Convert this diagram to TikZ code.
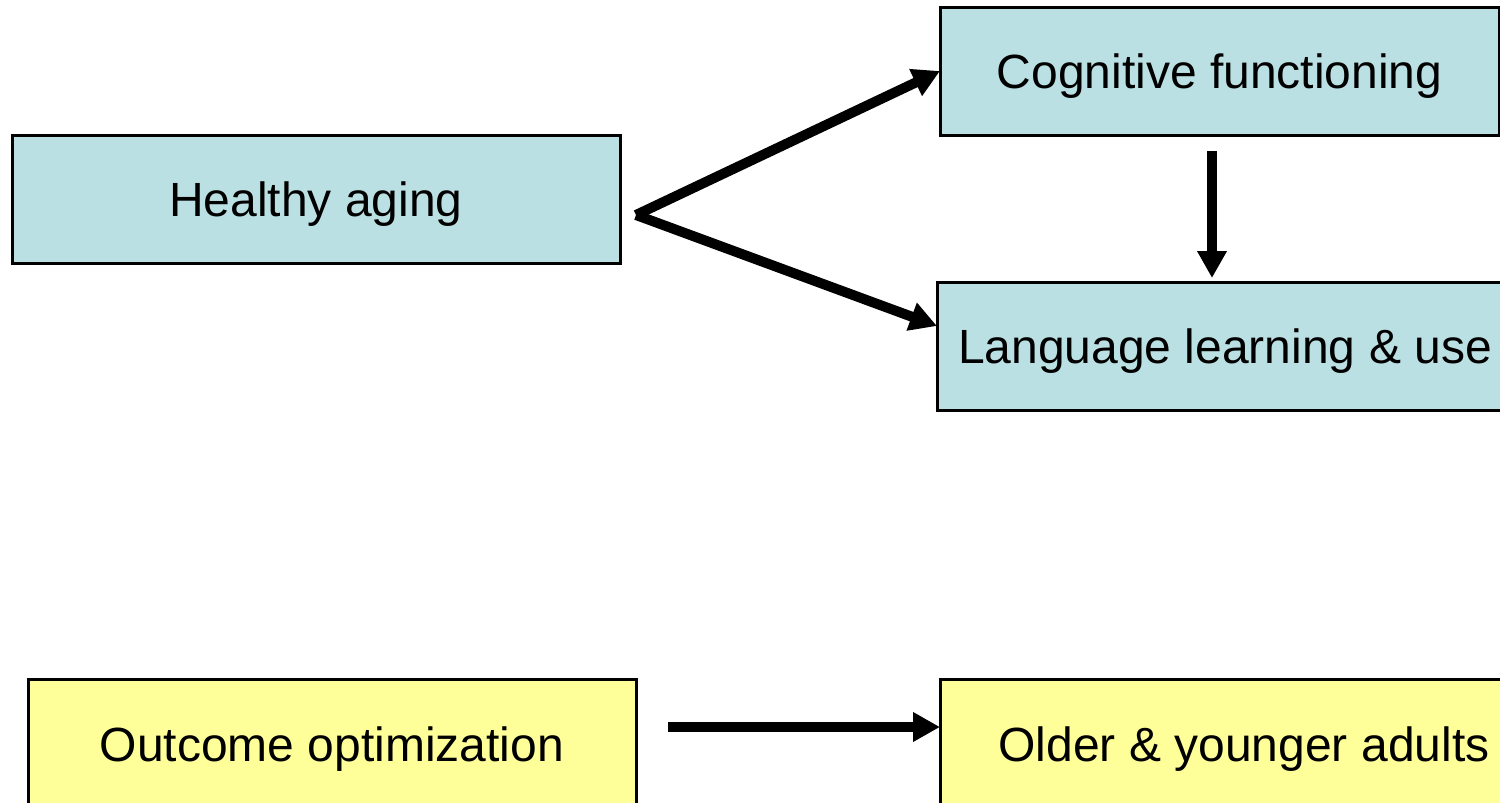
\documentclass[tikz,border=0pt]{standalone}
\usepackage{fontspec}
\setmainfont{Liberation Sans}
\usetikzlibrary{arrows.meta,calc}
\definecolor{boxblue}{HTML}{BBE0E3}
\definecolor{boxyellow}{HTML}{FFFF99}
\tikzset{
  box/.style={draw=black, line width=3pt, inner sep=0pt, outer sep=0pt,
    font=\fontsize{48}{58}\selectfont, text=black, anchor=center,
    text height=35pt, text depth=0pt},
  bluebox/.style={box, fill=boxblue, minimum height=128pt},
  yellowbox/.style={box, fill=boxyellow, minimum height=130pt},
  conn/.style={line width=10pt, -{Triangle[length=27pt,width=28pt]}}
}
\begin{document}
\begin{tikzpicture}[x=1pt,y=-1pt]
\useasboundingbox (0,0) rectangle (1500,803);
\begin{scope}
\clip (0,0) rectangle (1500,803);
\node[bluebox, minimum width=608pt] (healthy) at (316,199) {Healthy aging};
\node[bluebox, minimum width=559pt] (cog) at (1219.5,71) {Cognitive functioning};
\node[bluebox, minimum width=576pt] (lang) at (1225,346) {Language learning \& use};
\node[yellowbox, minimum width=608pt] (outcome) at (332,744) {Outcome optimization};
\node[yellowbox, minimum width=608pt] (older) at (1244,744) {Older \& younger adults};

\coordinate (fork) at (636,215);
\coordinate (vstart) at (1212,151);
\coordinate (hstart) at (668,727);

\draw[conn] (fork) -- (cog.west);
\draw[conn] (fork) -- ($(lang.west)+(0,-20)$);
\draw[conn, shorten >=4pt] (vstart) -- (vstart |- lang.north);
\draw[conn] (hstart) -- (hstart -| older.west);
\end{scope}
\end{tikzpicture}
\end{document}
